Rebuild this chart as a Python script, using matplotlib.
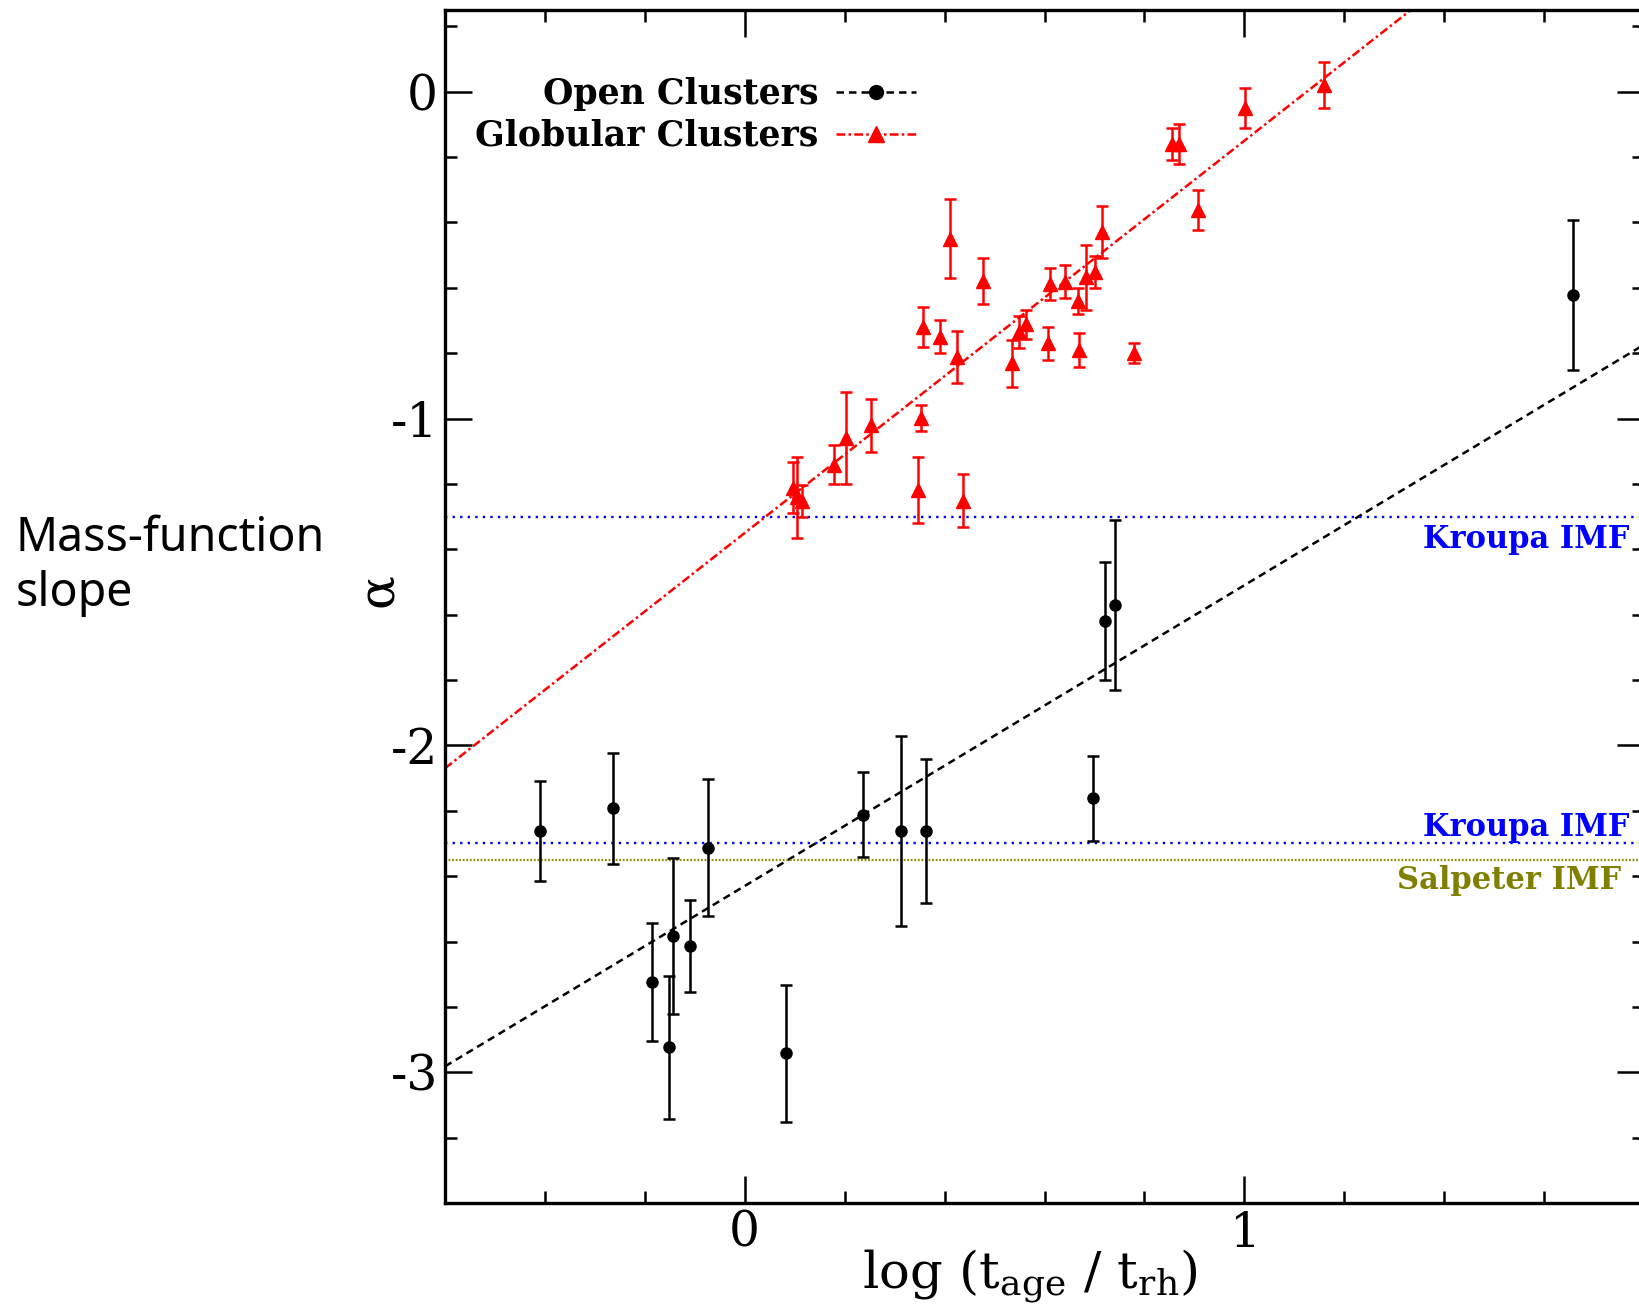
import numpy as np
import matplotlib
matplotlib.use("Agg")
from matplotlib import pyplot as plt
from matplotlib.lines import Line2D
from matplotlib.ticker import MultipleLocator

plt.rcParams.update({
    "font.family": "DejaVu Serif",
    "mathtext.fontset": "dejavuserif",
    "axes.unicode_minus": False,
})

# open clusters: log(t_age/t_rh), alpha, error
oc_x = [-0.410, -0.264, -0.185, -0.152, -0.143, -0.109, -0.074, 0.083,
        0.236, 0.313, 0.363, 0.698, 0.721, 0.742, 1.658]
oc_y = [-2.262, -2.192, -2.723, -2.924, -2.583, -2.614, -2.313, -2.942,
        -2.212, -2.262, -2.262, -2.161, -1.620, -1.569, -0.621]
oc_err = [0.152, 0.17, 0.18, 0.22, 0.24, 0.14, 0.21, 0.21,
          0.13, 0.29, 0.22, 0.13, 0.18, 0.26, 0.23]

# globular clusters
gc_x = [0.097, 0.104, 0.114, 0.178, 0.202, 0.252, 0.346, 0.352, 0.356,
        0.390, 0.410, 0.425, 0.436, 0.477, 0.535, 0.548, 0.562, 0.608,
        0.611, 0.641, 0.667, 0.669, 0.684, 0.701, 0.716, 0.779, 0.856,
        0.870, 0.908, 1.002, 1.160]
gc_y = [-1.211, -1.241, -1.252, -1.141, -1.060, -1.021, -1.220, -0.998, -0.720,
        -0.749, -0.450, -0.811, -1.251, -0.580, -0.831, -0.735, -0.712, -0.770,
        -0.589, -0.581, -0.640, -0.790, -0.568, -0.552, -0.429, -0.800, -0.160,
        -0.160, -0.361, -0.050, 0.020]
gc_err = [0.079, 0.123, 0.05, 0.060, 0.141, 0.081, 0.101, 0.039, 0.060,
          0.05, 0.121, 0.080, 0.080, 0.070, 0.071, 0.05, 0.045, 0.051,
          0.049, 0.051, 0.040, 0.051, 0.100, 0.050, 0.080, 0.030, 0.049,
          0.062, 0.061, 0.061, 0.070]

# linear fits (slope, intercept)
oc_fit = (0.92, -2.43)
gc_fit = (1.20, -1.35)

kroupa_hi = -1.30
kroupa_lo = -2.30
salpeter = -2.35

xlim = (-0.6, 1.8)
ylim = (-3.4, 0.25)

fig = plt.figure(figsize=(16.39, 13.12), dpi=100)
ax = fig.add_axes([445 / 1639, 1 - 1203 / 1312, 1199 / 1639, 1193 / 1312])

xs = np.array(xlim)
ax.plot(xs, oc_fit[0] * xs + oc_fit[1], color="black", lw=1.8, dashes=(3, 2))
ax.plot(xs, gc_fit[0] * xs + gc_fit[1], color="red", lw=1.8, dashes=(3.5, 1.3, 1, 1.3))

ax.axhline(kroupa_hi, color="blue", lw=1.7, dashes=(1, 2.2))
ax.axhline(kroupa_lo, color="blue", lw=1.7, dashes=(1, 2.2))
ax.axhline(salpeter, color="#8c8c00", lw=1.6, dashes=(0.8, 0.8))

ax.errorbar(oc_x, oc_y, yerr=oc_err, fmt="o", color="black", ms=8,
            elinewidth=1.8, capsize=4, capthick=1.8, zorder=4)
ax.errorbar(gc_x, gc_y, yerr=gc_err, fmt="^", color="red", ms=10,
            elinewidth=1.8, capsize=4, capthick=1.8, zorder=4)

lbl = dict(fontsize=22, fontweight="bold", ha="right", va="baseline")
ax.text(1.77, -1.397, "Kroupa IMF", color="blue", **lbl)
ax.text(1.77, -2.276, "Kroupa IMF", color="blue", **lbl)
ax.text(1.755, -2.438, "Salpeter IMF", color="#808000", **lbl)

ax.set_xlim(*xlim)
ax.set_ylim(*ylim)
ax.xaxis.set_major_locator(MultipleLocator(1))
ax.xaxis.set_minor_locator(MultipleLocator(0.2))
ax.yaxis.set_major_locator(MultipleLocator(1))
ax.yaxis.set_minor_locator(MultipleLocator(0.2))
ax.tick_params(which="both", direction="in", top=True, right=True,
               width=1.8, labelsize=35)
ax.tick_params(which="major", length=19.5, pad=5)
ax.tick_params(which="minor", length=8.6)
for sp in ax.spines.values():
    sp.set_linewidth(2.4)

ax.set_xlabel(r"log (t$_{\mathrm{age}}$ / t$_{\mathrm{rh}}$)", fontsize=37)
ax.xaxis.set_label_coords(0.4876, -0.037)
ax.set_ylabel("α", fontsize=36)
ax.yaxis.set_label_coords(-0.034, 0.514)

handles = [
    Line2D([], [], color="black", lw=1.8, dashes=(3, 2), marker="o", ms=10),
    Line2D([], [], color="red", lw=1.8, dashes=(3.5, 1.3, 1, 1.3), marker="^", ms=12),
]
ax.legend(handles, ["Open Clusters", "Globular Clusters"], loc="upper right",
          bbox_to_anchor=(933 / 1639, 1 - 60 / 1312), bbox_transform=fig.transFigure,
          frameon=False, markerfirst=False, borderpad=0, handlelength=2.3,
          handletextpad=0.5, labelspacing=0.22,
          prop={"size": 25, "weight": "bold"})

fig.text(16 / 1639, 1 - 566 / 1312, "Mass-function\nslope", family="Noto Sans",
         fontsize=33.5, ha="left", va="center", linespacing=1.2)

fig.savefig("out.png", dpi=100)
